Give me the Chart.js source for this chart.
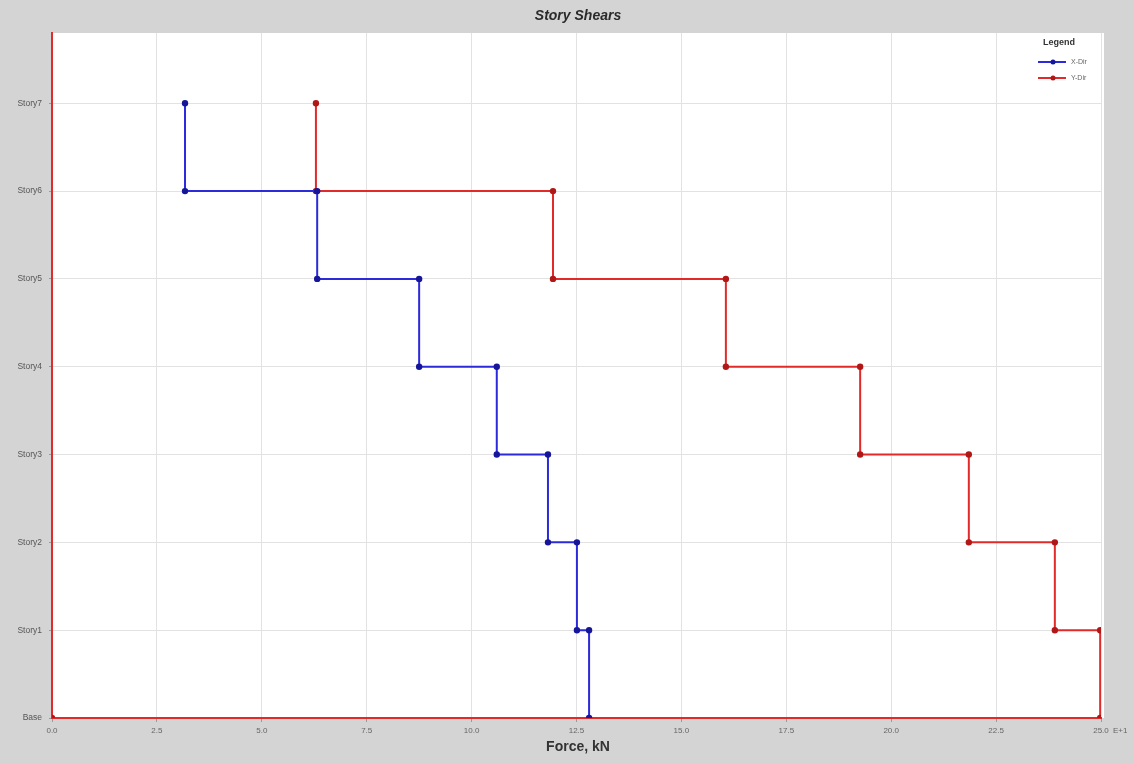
<!DOCTYPE html>
<html>
<head>
<meta charset="utf-8">
<script src="https://cdn.jsdelivr.net/npm/chart.js@4.4.1/dist/chart.umd.min.js"></script>
<style>
  html, body { margin: 0; padding: 0; background: #d4d4d4; }
  #wrap { width: 1133px; height: 763px; position: relative; }
</style>
</head>
<body>
<div id="wrap"><canvas id="c" width="1133" height="763"></canvas></div>
<script>
// Story levels, bottom to top
const stories = ['Base', 'Story1', 'Story2', 'Story3', 'Story4', 'Story5', 'Story6', 'Story7'];
// Story shear per storey (Story1 .. Story7), units of 10 kN
const xDirShear = [12.80, 12.51, 11.82, 10.60, 8.75, 6.32, 3.17];
const yDirShear = [24.98, 23.90, 21.85, 19.26, 16.06, 11.94, 6.29];
// Force axis ticks
const forceTicks = [0, 2.5, 5.0, 7.5, 10.0, 12.5, 15.0, 17.5, 20.0, 22.5, 25.0];
const forceExponent = 'E+1';

// Step profile: each storey's shear held constant from its top level to its bottom level
function stepProfile(shears) {
  const pts = [];
  for (let i = shears.length - 1; i >= 0; i--) {
    pts.push({ x: shears[i], y: i + 1 });
    pts.push({ x: shears[i], y: i });
  }
  return pts;
}

const xDirPts = stepProfile(xDirShear);
const yDirPts = stepProfile(yDirShear);
yDirPts.push({ x: 0, y: 0 });

const RED = '#e32a2a';
const FONT = "'Liberation Sans', Arial, sans-serif";

const framePlugin = {
  id: 'frame',
  beforeDraw(chart) {
    const { ctx, chartArea: a } = chart;
    ctx.save();
    ctx.fillStyle = '#d4d4d4';
    ctx.fillRect(0, 0, chart.width, chart.height);
    ctx.fillStyle = '#ffffff';
    ctx.fillRect(a.left, a.top, a.right - a.left + 3, a.bottom - a.top);
    ctx.restore();
  },
  afterDraw(chart) {
    const { ctx, chartArea: a } = chart;
    ctx.save();
    // Title
    ctx.fillStyle = '#2a2a2a';
    ctx.font = "italic bold 14px " + FONT;
    ctx.textAlign = 'center';
    ctx.textBaseline = 'middle';
    ctx.fillText('Story Shears', 578, 16);
    // Axis title
    ctx.font = "bold 14px " + FONT;
    ctx.fillStyle = '#333333';
    ctx.fillText('Force, kN', 578, 747);
    // Exponent after the last force tick
    ctx.font = "8px " + FONT;
    ctx.fillStyle = '#666666';
    ctx.textAlign = 'left';
    ctx.fillText(forceExponent, a.right + 12, 731);
    // Legend
    const lx = 1038, ly = 43;
    ctx.textAlign = 'center';
    ctx.font = "bold 9px " + FONT;
    ctx.fillStyle = '#333333';
    ctx.fillText('Legend', 1059, ly);
    chart.data.datasets.forEach((ds, i) => {
      const y = 62 + i * 16;
      ctx.strokeStyle = ds.borderColor;
      ctx.lineWidth = 2;
      ctx.beginPath();
      ctx.moveTo(lx, y);
      ctx.lineTo(lx + 28, y);
      ctx.stroke();
      ctx.fillStyle = ds.pointBackgroundColor;
      ctx.beginPath();
      ctx.arc(lx + 15, y, 2.5, 0, Math.PI * 2);
      ctx.fill();
      ctx.fillStyle = '#666666';
      ctx.font = "7px " + FONT;
      ctx.textAlign = 'left';
      ctx.fillText(ds.label, lx + 33, y);
      ctx.textAlign = 'center';
    });
    ctx.restore();
  }
};

new Chart(document.getElementById('c'), {
  type: 'scatter',
  data: {
    datasets: [
      {
        label: 'X-Dir',
        data: xDirPts,
        showLine: true,
        borderColor: '#2b2bdc',
        borderWidth: 2,
        pointBackgroundColor: '#16169a',
        pointBorderColor: '#16169a',
        pointRadius: 2.2,
        tension: 0
      },
      {
        label: 'Y-Dir',
        data: yDirPts,
        showLine: true,
        borderColor: RED,
        borderWidth: 2,
        pointBackgroundColor: '#b01818',
        pointBorderColor: '#b01818',
        pointRadius: 2.2,
        tension: 0
      }
    ]
  },
  options: {
    responsive: false,
    animation: false,
    events: [],
    layout: { padding: { top: 33, right: 32, left: 0, bottom: 0 } },
    plugins: { legend: { display: false }, tooltip: { enabled: false }, title: { display: false } },
    scales: {
      x: {
        type: 'linear',
        min: 0,
        max: 25,
        afterFit(s) { s.height = 45; },
        afterBuildTicks(s) { s.ticks = forceTicks.map(v => ({ value: v })); },
        ticks: {
          callback: v => Number(v).toFixed(1),
          font: { family: FONT, size: 8 },
          color: '#666666',
          padding: 4,
          maxRotation: 0,
          autoSkip: false
        },
        grid: { color: '#e2e2e2', lineWidth: 1, tickLength: 4, tickColor: '#999999' },
        border: { color: RED, width: 2 }
      },
      y: {
        type: 'linear',
        min: 0,
        max: 7.8,
        afterFit(s) { s.width = 52; },
        afterBuildTicks(s) { s.ticks = stories.map((_, i) => ({ value: i })); },
        ticks: {
          callback: v => stories[v],
          font: { family: FONT, size: 8.5 },
          color: '#555555',
          padding: 7,
          autoSkip: false
        },
        grid: { color: '#e2e2e2', lineWidth: 1, tickLength: 3, tickColor: '#999999' },
        border: { color: RED, width: 2 }
      }
    }
  },
  plugins: [framePlugin]
});
</script>
</body>
</html>
